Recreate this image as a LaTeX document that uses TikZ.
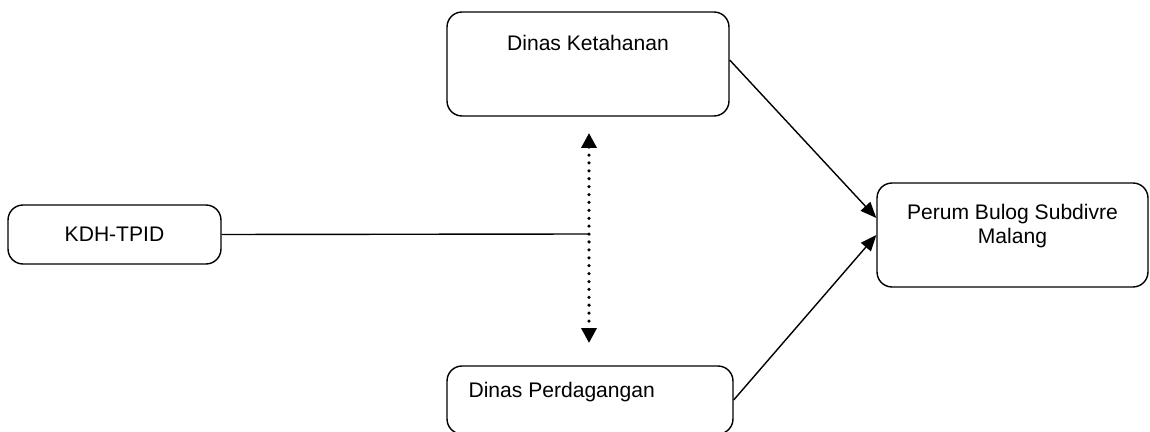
\documentclass[tikz,border=0pt]{standalone}
\usepackage{fontspec}
\setmainfont{Liberation Sans}
\usetikzlibrary{arrows.meta}

\begin{document}
\begin{tikzpicture}[x=0.02cm,y=-0.02cm,
    every node/.style={font=\fontsize{12}{14}\selectfont},
    box/.style={draw,rounded corners=0.3cm,line width=0.8pt},
    arr/.style={-{Triangle[length=0.32cm,width=0.26cm]},line width=0.8pt},
    dotarrow/.style={{Triangle[length=0.3cm,width=0.3cm]}-{Triangle[length=0.3cm,width=0.3cm]},
        line width=2pt,line cap=round,dash pattern=on 0pt off 4.5pt}]
    \useasboundingbox (0,0) rectangle (1150,432);
    \clip (0,0) rectangle (1150,432);
    \node[box,minimum width=4.26cm,minimum height=1.18cm] (kdh) at (114.5,234.5) {KDH-TPID};
    \node[box,minimum width=5.64cm,minimum height=2.08cm,
        label={[anchor=north,yshift=-0.35cm]north:Dinas Ketahanan}] (ket) at (588,64) {};
    \node[box,minimum width=5.72cm,minimum height=1.36cm,
        label={[anchor=north west,xshift=0.32cm,yshift=-0.22cm]north west:Dinas Perdagangan}] (perd) at (590,400) {};
    \node[box,minimum width=5.42cm,minimum height=2.08cm,
        label={[align=center,yshift=0.18cm]center:Perum Bulog Subdivre\\Malang}] (perum) at (1012.5,235) {};
    \coordinate (top) at (589,133);
    \coordinate (bot) at (589,343);
    \coordinate (meet) at (589,234);
    \draw[dotarrow] (top) -- (bot);
    \draw[line width=0.8pt] (kdh.east) -- (meet);
    \draw[arr] ([yshift=0.08cm]ket.east) -- ([yshift=0.34cm]perum.west);
    \draw[arr] (perd.east) -- (perum.west);
\end{tikzpicture}
\end{document}
